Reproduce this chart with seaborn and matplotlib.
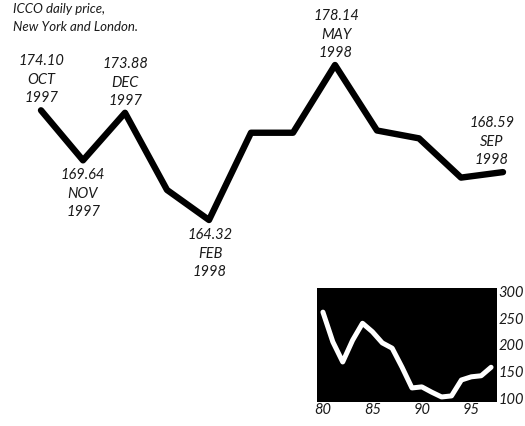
import matplotlib
matplotlib.use("Agg")
import matplotlib.pyplot as plt
import seaborn as sns
import pandas as pd

# Monthly ICCO cocoa price, Oct 1997 - Sep 1998
months = ["OCT", "NOV", "DEC", "JAN", "FEB", "MAR", "APR", "MAY", "JUN", "JUL", "AUG", "SEP"]
years = ["1997", "1997", "1997", "1998", "1998", "1998", "1998", "1998", "1998", "1998", "1998", "1998"]
prices = [174.10, 169.64, 173.88, 167.0, 164.32, 172.1, 172.1, 178.14, 172.3, 171.6, 168.1, 168.59]

# Annual price history, 1980 - 1997
hist_years = list(range(80, 98))
hist_prices = [262, 206, 168, 209, 241, 225, 204, 194, 158, 119, 121, 111, 102, 104, 134, 140, 142, 158]

# Months that carry a value label, and whether the label sits above or below
labelled = {0: "above", 1: "below", 2: "above", 4: "below", 7: "above", 11: "above"}

sns.set_theme(style="white")
font = dict(family=["Lato", "DejaVu Sans"], style="italic", weight="normal", color="#1a1a1a")

W, H = 525, 426
fig = plt.figure(figsize=(W / 100, H / 100), dpi=100)
fig.patch.set_facecolor("white")

# main monthly line
ax = fig.add_axes([41 / W, 1 - 220 / H, 462 / W, 155 / H])
df = pd.DataFrame({"idx": range(len(prices)), "price": prices})
sns.lineplot(data=df, x="idx", y="price", ax=ax, color="black", lw=4.6,
             clip_on=False)
ax.set_xlim(0, len(prices) - 1)
ax.set_ylim(164.32, 178.14)
ax.axis("off")

for i, side in labelled.items():
    p = prices[i]
    lines = [f"{p:.2f}", months[i], years[i]]
    dx = -11 if i == 11 else (1 if i in (4, 7) else 0)
    if side == "above":
        offsets = [49, 30, 12]
    else:
        offsets = [-15, -34, -52]
    for txt, off in zip(lines, offsets):
        ax.annotate(txt, (i, p), xytext=(dx * 0.72, off * 0.72), textcoords="offset points",
                    ha="center", va="center", fontsize=10.5, **font)

fig.text(13 / W, 1 - 9 / H, "ICCO daily price,", ha="left", va="center", fontsize=9.5, **font)
fig.text(13 / W, 1 - 27 / H, "New York and London.", ha="left", va="center", fontsize=9.5, **font)

# inset: long-run history
ins = fig.add_axes([317 / W, 1 - 402 / H, 180 / W, 114 / H])
ins.set_facecolor("black")
hdf = pd.DataFrame({"year": hist_years, "price": hist_prices})
sns.lineplot(data=hdf, x="year", y="price", ax=ins, color="white", lw=3.6)
ins.set_xlim(79.4, 97.6)
ins.set_ylim(92.5, 307.5)
ins.yaxis.tick_right()
ins.set_yticks([100, 150, 200, 250, 300])
ins.set_xticks([80, 85, 90, 95])
ins.set_xticklabels(["80", "85", "90", "95"])
ins.set_yticklabels(["100", "150", "200", "250", "300"])
ins.tick_params(length=0, pad=1)
for lab in ins.get_xticklabels() + ins.get_yticklabels():
    lab.set_fontsize(10.5)
    lab.set_family(["Lato", "DejaVu Sans"])
    lab.set_style("italic")
    lab.set_weight("normal")
    lab.set_color("#1a1a1a")
ins.set_xlabel("")
ins.set_ylabel("")
for s in ins.spines.values():
    s.set_visible(False)

fig.savefig("out.png", dpi=100)
